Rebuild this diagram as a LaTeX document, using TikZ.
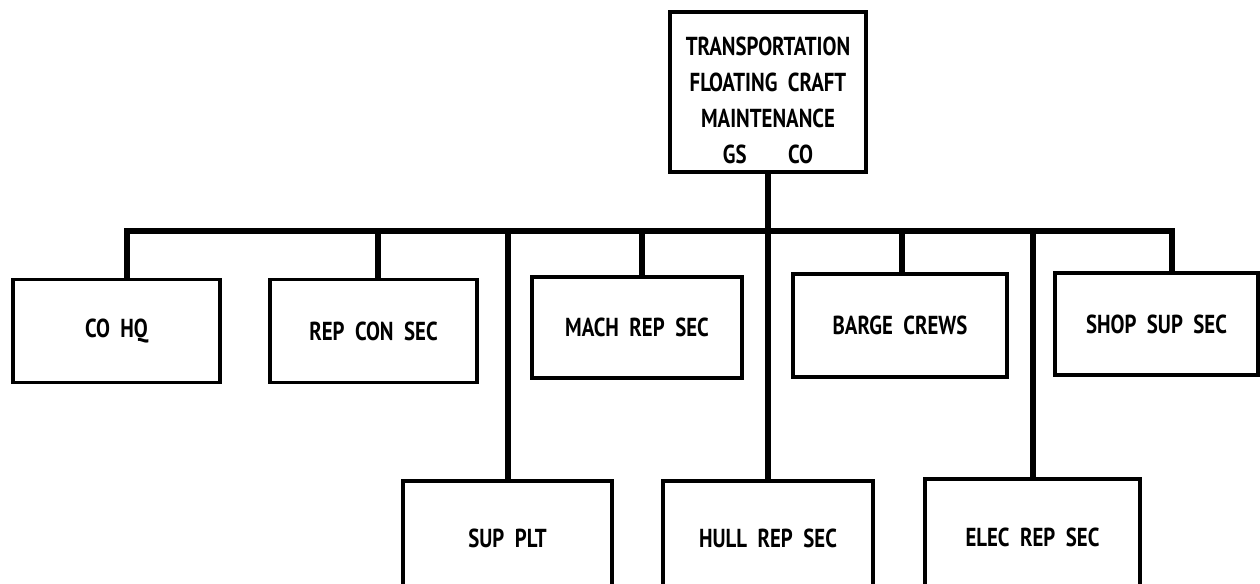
\documentclass[tikz,border=0pt]{standalone}
\usepackage{fontspec}
\setmainfont[FakeStretch=0.8]{PT Sans}
\usetikzlibrary{positioning}
\tikzstyle{unitbox} = [
    rectangle,
    draw=black,
    line width=1.6pt,
    align=center,
    inner sep=0pt,
    font=\bfseries\fontsize{13}{18}\selectfont
]
\tikzstyle{secbox} = [
    unitbox,
    minimum height=51.5pt
]
\tikzstyle{link} = [line width=3pt]

\begin{document}
\begin{tikzpicture}[x=0.5pt, y=-0.5pt]
\useasboundingbox (0,0) rectangle (1260,584);

\node (tfcm) [unitbox, minimum width=98pt, minimum height=80pt] at (768,92)
{\rule{0pt}{18pt}TRANSPORTATION\\FLOATING\ \ CRAFT\\MAINTENANCE\\GS\hspace{1.6em}CO};

% first row
\node (cohq) [secbox, minimum width=103.5pt] at (116.5,331) {CO\ \ HQ};
\node (repcon) [secbox, minimum width=103.5pt] at (373.5,331) {REP\ \ CON\ \ SEC};
\node (mach) [secbox, minimum width=105pt, minimum height=50.5pt] at (637,327.5) {MACH\ \ REP\ \ SEC};
\node (barge) [secbox, minimum width=107pt] at (900,325.5) {BARGE\ \ CREWS};
\node (shop) [secbox, minimum width=101.5pt, minimum height=51pt] at (1156.5,324) {SHOP\ \ SUP\ \ SEC};

% second row
\node (suppl) [unitbox, minimum width=104.5pt, minimum height=57pt] at (507.5,538) {SUP\ \ PLT};
\node (hull) [unitbox, minimum width=105pt, minimum height=57pt] at (768,538) {HULL\ \ REP\ \ SEC};
\node (elec) [unitbox, minimum width=107.5pt, minimum height=58pt] at (1032.5,537) {ELEC\ \ REP\ \ SEC};

% bus
\coordinate (busw) at (127,231);
\coordinate (buse) at (1172,231);
\coordinate (busrep) at (378,231);
\coordinate (busmach) at (642,231);
\coordinate (busbarge) at (902,231);

\draw [link] (busw |- cohq.north) -- (busw) -- (buse) -- (buse |- shop.north);
\draw [link] (tfcm.south) -- (tfcm.south |- busw);
\draw [link] (busrep) -- (busrep |- repcon.north);
\draw [link] (busmach) -- (busmach |- mach.north);
\draw [link] (busbarge) -- (busbarge |- barge.north);

\draw [link] (suppl.north |- busw) -- (suppl.north);
\draw [link] (tfcm.south |- busw) -- (hull.north);
\draw [link] (elec.north |- busw) -- (elec.north);

\end{tikzpicture}
\end{document}
